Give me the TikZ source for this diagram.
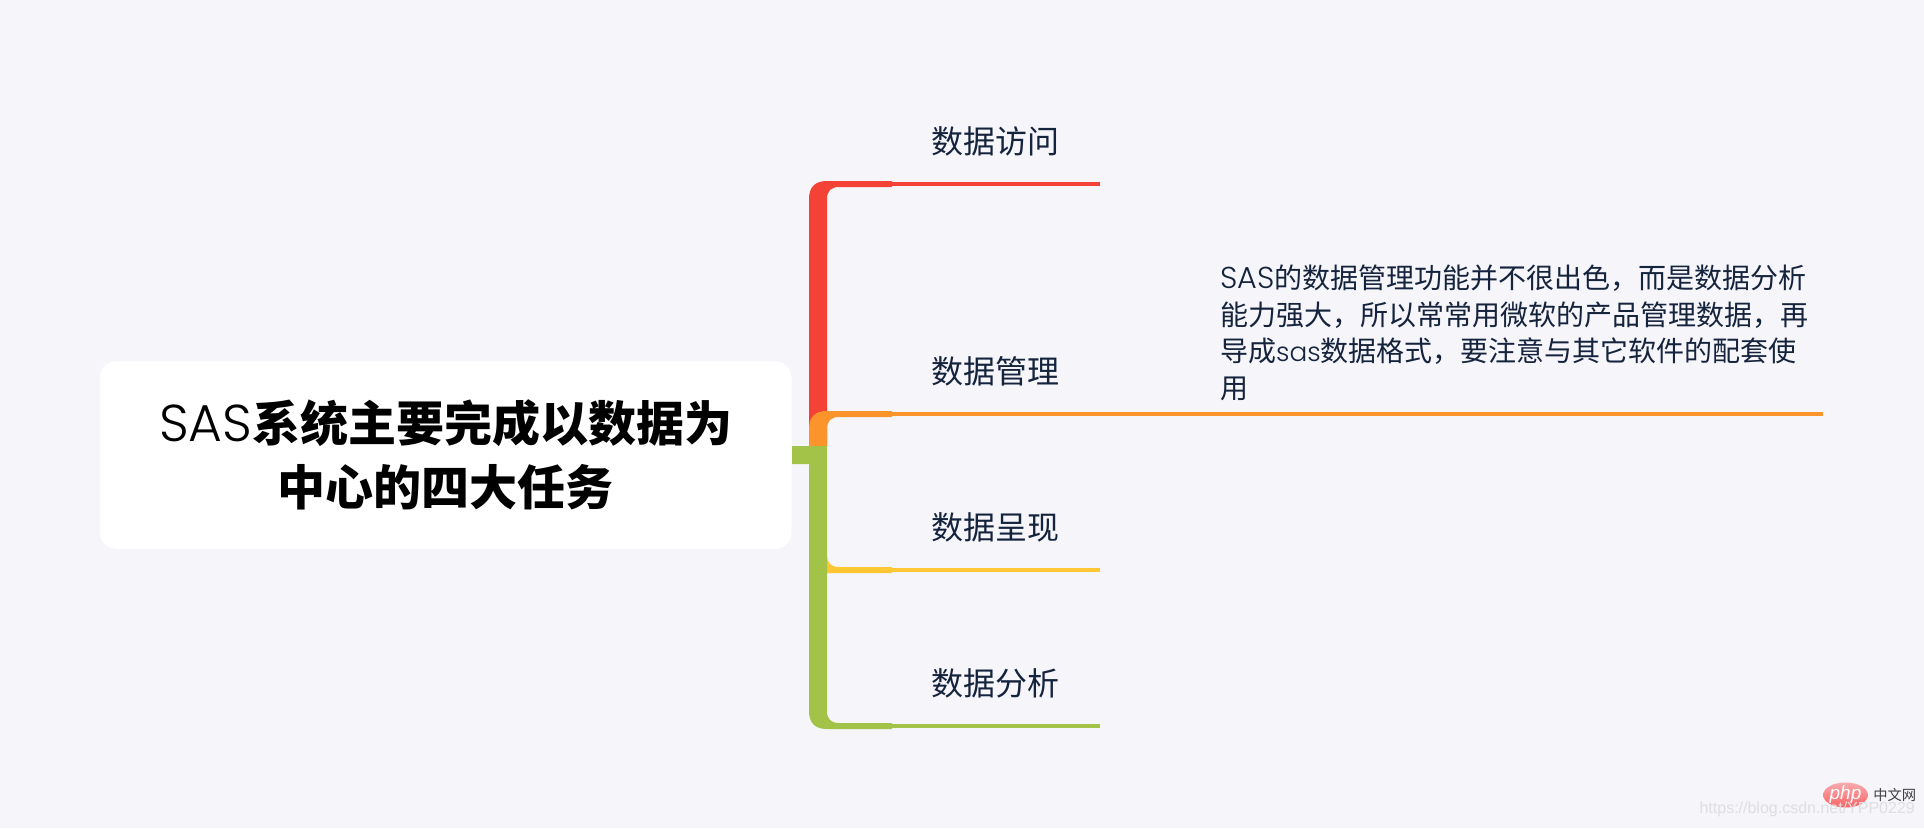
\documentclass[tikz,border=0pt]{standalone}
\usepackage{fontspec}
\setmainfont{Noto Sans CJK SC}
\newfontfamily\latn[Scale=1.08, UprightFont=* Light]{Poppins}
\newfontfamily\latnsmall[Scale=0.94, UprightFont=* Light]{Poppins}
\newfontfamily\wmark{Liberation Sans}
\usetikzlibrary{positioning, shapes.geometric}

\definecolor{pagebg}{HTML}{F5F5FA}
\definecolor{inkblue}{HTML}{15233D}
\definecolor{redbranch}{HTML}{F44336}
\definecolor{orangebranch}{HTML}{FC942C}
\definecolor{yellowbranch}{HTML}{FFC734}
\definecolor{greenbranch}{HTML}{A3C348}

\tikzset{
    rootbox/.style={fill=white, rounded corners=16pt, minimum width=691.5pt, minimum height=187.5pt,
        align=center, text=black, inner sep=0pt, font=\fontsize{48}{64}\selectfont},
    topic/.style={text=inkblue, inner sep=0pt, font=\fontsize{32}{36}\selectfont},
    note/.style={text=inkblue, inner sep=0pt, align=left, font=\fontsize{28}{36.7}\selectfont},
    twig/.style={line width=4pt}
}

\begin{document}
\begin{tikzpicture}[x=1pt, y=-1pt]
    \fill[pagebg] (0,0) rectangle (1924,828);
    \useasboundingbox (0,0) rectangle (1924,828);

    % Root
    \node[rootbox] (root) at (445.75,455) {{\latn SAS}\textbf{系统主要完成以数据为}\\\textbf{中心的四大任务}};

    % Topics
    \node[topic] (access) at (995.5,141) {数据访问};
    \node[topic] (manage) at (995.5,371) {数据管理};
    \node[topic] (show) at (995.5,527) {数据呈现};
    \node[topic] (analyse) at (995.5,683) {数据分析};
    \node[note, anchor=north west] (detail) at (1220,264.5) {{\latn SAS}的数据管理功能并不很出色，而是数据分析\\能力强大，所以常常用微软的产品管理数据，再\\导成{\latnsmall sas}数据格式，要注意与其它软件的配套使\\用};

    % Tapered branches
    \fill[redbranch] (809,446) -- (809,199) .. controls (809,187) and (815,181) .. (827,181)
        -- (892,181) -- (892,187) -- (839,187) .. controls (831,187) and (827,191) .. (827,199) -- (827,446) -- cycle;
    \fill[orangebranch] (809,446) -- (809,429) .. controls (809,417) and (815,411) .. (827,411)
        -- (892,411) -- (892,417) -- (839,417) .. controls (831,417) and (827,421) .. (827,429) -- (827,446) -- cycle;
    \fill[yellowbranch] (820,555) -- (827,555) .. controls (827,563) and (831,567) .. (839,567)
        -- (892,567) -- (892,573) -- (820,573) -- cycle;
    \fill[greenbranch] (792,446) -- (827,446) -- (827,711) .. controls (827,719) and (831,723) .. (839,723)
        -- (892,723) -- (892,729) -- (827,729) .. controls (815,729) and (809,723) .. (809,711)
        -- (809,464) -- (792,464) -- cycle;

    % Thin ends under the topics
    \coordinate (accessL) at (892,184);
    \coordinate (accessR) at (1100,184);
    \coordinate (manageL) at (892,414);
    \coordinate (manageR) at (1823,414);
    \coordinate (showL) at (892,570);
    \coordinate (showR) at (1100,570);
    \coordinate (analyseL) at (892,726);
    \coordinate (analyseR) at (1100,726);
    \draw[twig, redbranch] (accessL) -- (accessR);
    \draw[twig, orangebranch] (manageL) -- (manageR);
    \draw[twig, yellowbranch] (showL) -- (showR);
    \draw[twig, greenbranch] (analyseL) -- (analyseR);

    % Watermark
    \node[ellipse, top color=red!30!pagebg, bottom color=red!60!pagebg, minimum width=42pt, minimum height=21pt, inner sep=0pt,
        text=white, font=\wmark\itshape\fontsize{19}{19}\selectfont] (logo) at (1845.5,795) {php};
    \node[right=5pt of logo, inner sep=0pt, text=black!75, font=\fontsize{14.3}{14.3}\selectfont] (site) {中文网};
    \node[anchor=east, inner sep=0pt, text=gray!25, font=\wmark\fontsize{16}{16}\selectfont] (url) at (1915,809) {https://blog.csdn.net/YPP0229};
\end{tikzpicture}
\end{document}
